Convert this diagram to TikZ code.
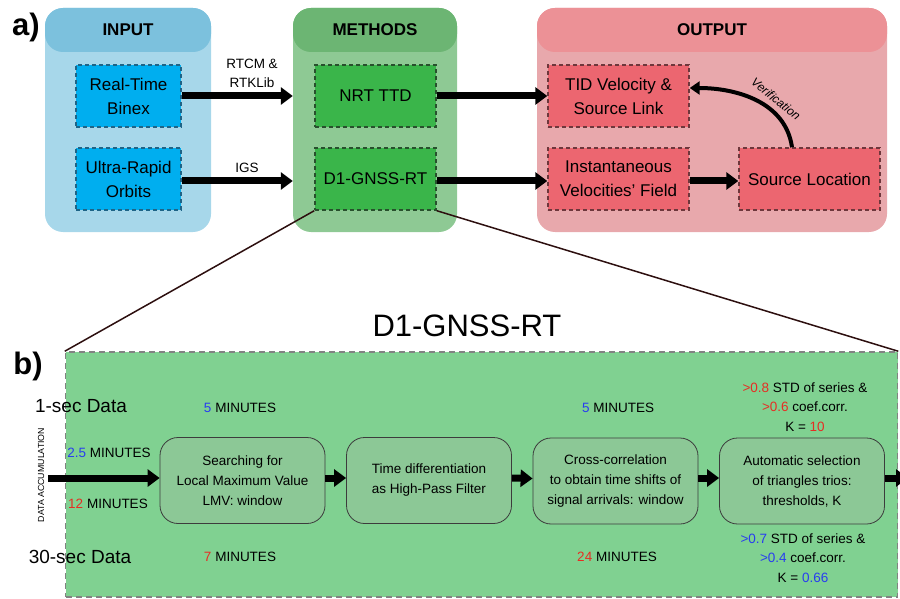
\documentclass[tikz,border=0pt]{standalone}
\usepackage{fontspec}
\setmainfont{Liberation Sans}
\usetikzlibrary{arrows.meta,calc}

\definecolor{inHead}{RGB}{124,193,221}
\definecolor{inBody}{RGB}{167,215,234}
\definecolor{inBox}{RGB}{0,174,239}
\definecolor{inLine}{RGB}{30,100,135}
\definecolor{meHead}{RGB}{108,181,115}
\definecolor{meBody}{RGB}{142,201,148}
\definecolor{meBox}{RGB}{58,181,74}
\definecolor{meLine}{RGB}{40,80,45}
\definecolor{ouHead}{RGB}{236,145,150}
\definecolor{ouBody}{RGB}{232,168,172}
\definecolor{ouBox}{RGB}{236,102,112}
\definecolor{ouLine}{RGB}{110,55,60}
\definecolor{bFill}{RGB}{128,209,145}
\definecolor{bLine}{RGB}{130,130,130}
\definecolor{stepFill}{RGB}{140,200,150}
\definecolor{stepLine}{RGB}{60,60,60}
\definecolor{numRed}{RGB}{230,45,35}
\definecolor{numBlue}{RGB}{40,60,240}
\definecolor{zoomLine}{RGB}{45,15,15}

\newcommand{\rd}[1]{{\color{numRed}#1}}
\newcommand{\bl}[1]{{\color{numBlue}#1}}

\tikzset{
  x=1pt, y=1pt,
  panel/.style={rounded corners=18pt, inner sep=0pt},
  paneltitle/.style={rounded corners=18pt, inner sep=0pt, minimum height=44pt,
    font=\fontsize{17}{20}\selectfont\bfseries},
  srcbox/.style={draw, dash pattern=on 4pt off 3pt, line width=1.4pt,
    minimum height=62pt, align=center, inner sep=0pt,
    font=\fontsize{17}{24}\selectfont},
  fat/.style={line width=7pt, -{Triangle[length=12pt,width=17pt]}},
  lbl/.style={align=center, inner sep=0pt, font=\fontsize{13.5}{19}\selectfont},
  stepbox/.style={draw=stepLine, line width=0.8pt, fill=stepFill, rounded corners=18pt,
    minimum width=165pt, minimum height=86pt, align=center, inner sep=0pt,
    font=\fontsize{13.5}{20}\selectfont},
  note/.style={inner sep=0pt, align=center, font=\fontsize{13.5}{19.5}\selectfont},
  datalbl/.style={inner sep=0pt, font=\fontsize{19}{22}\selectfont},
}

\begin{document}
\begin{tikzpicture}
\useasboundingbox (0,0) rectangle (900,-599);

% ---------- a) panels ----------
\node[font=\fontsize{31}{31}\selectfont\bfseries, inner sep=0pt] (alabel) at (26,-27) {a)};

\node[panel, fill=inBody, minimum width=166pt, minimum height=224pt] (inp) at (128,-120) {};
\node[paneltitle, fill=inHead, minimum width=166pt] (inpT) at (128,-30) {INPUT};

\node[panel, fill=meBody, minimum width=164pt, minimum height=224pt] (meth) at (375,-120) {};
\node[paneltitle, fill=meHead, minimum width=164pt] (methT) at (375,-30) {METHODS};

\node[panel, fill=ouBody, minimum width=350pt, minimum height=224pt] (outp) at (712,-120) {};
\node[paneltitle, fill=ouHead, minimum width=350pt] (outpT) at (712,-30) {OUTPUT};

% input boxes
\node[srcbox, fill=inBox, draw=inLine, minimum width=105pt] (rtb) at (128.5,-96) {Real-Time\\Binex};
\node[srcbox, fill=inBox, draw=inLine, minimum width=105pt] (uro) at (128.5,-179) {Ultra-Rapid\\Orbits};

% method boxes
\node[srcbox, fill=meBox, draw=meLine, minimum width=121pt] (nrt) at (375.5,-96) {NRT TTD};
\node[srcbox, fill=meBox, draw=meLine, minimum width=121pt] (d1) at (375.5,-179) {D1-GNSS-RT};

% output boxes
\node[srcbox, fill=ouBox, draw=ouLine, minimum width=141pt] (tid) at (618.5,-96) {TID Velocity \&\\Source Link};
\node[srcbox, fill=ouBox, draw=ouLine, minimum width=141pt] (inst) at (618.5,-179) {Instantaneous\\Velocities’ Field};
\node[srcbox, fill=ouBox, draw=ouLine, minimum width=141pt] (src) at (809.5,-179) {Source Location};

% connectors of part a)
\draw[fat] (rtb.east) -- (rtb.east -| meth.west);
\draw[fat] ([yshift=-2pt]uro.east) -- ([yshift=-2pt]uro.east -| meth.west);
\node[lbl] (rtcm) at (252,-73) {RTCM \&\\RTKLib};
\node[lbl] (igs) at (247,-168) {IGS};

\draw[fat] (nrt.east) -- (tid.west);
\draw[fat] ([yshift=-2pt]d1.east) -- ([yshift=-2pt]inst.west);
\draw[fat] ([yshift=-2pt]inst.east) -- ([yshift=-2pt]src.west);

\coordinate (vstart) at ($(src.north)+(-17.5,0)$);
\coordinate (vend) at ($(tid.east)+(0,8)$);
\draw[line width=4pt, -{Triangle[length=10pt,width=13pt]}] (vstart) to[out=98,in=0] (vend);
\node[rotate=-39, inner sep=0pt, font=\fontsize{12}{12}\selectfont\itshape] (verif) at (776,-99) {Verification};

% ---------- b) detail ----------
\node[font=\fontsize{31}{31}\selectfont, inner sep=0pt] (title) at (467,-326) {D1-GNSS-RT};
\node[font=\fontsize{31}{31}\selectfont\bfseries, inner sep=0pt] (blabel) at (28,-366) {b)};

\node[draw=bLine, fill=bFill, line width=1.5pt, dash pattern=on 6pt off 4pt,
      minimum width=832pt, minimum height=245pt, inner sep=0pt] (bbox) at (481.5,-474.5) {};

\draw[zoomLine, line width=1.5pt] (d1.south west) -- (bbox.north west);
\draw[zoomLine, line width=1.5pt] (d1.south east) -- (bbox.north east);

\node[datalbl] (sec1) at (81,-406) {1-sec Data};
\node[datalbl] (sec30) at (80,-557) {30-sec Data};
\node[rotate=90, inner sep=0pt, font=\fontsize{8.8}{9}\selectfont] (accum) at (41,-475) {DATA ACCUMULATION};

\node[note] (m25) at (109,-453) {\bl{2.5} MINUTES};
\node[note] (m12) at (108,-504) {\rd{12} MINUTES};

\node[stepbox] (s1) at (242.5,-480.5) {Searching for\\Local Maximum Value\\LMV: window};
\node[stepbox] (s2) at (429,-480.5) {Time differentiation\\as High-Pass Filter};
\node[stepbox] (s3) at (615.5,-481) {Cross-correlation\\to obtain time shifts of\\signal arrivals: window};
\node[stepbox] (s4) at (802,-481) {Automatic selection\\of triangles trios:\\thresholds, K};

\coordinate (feed) at (48,-478);
\coordinate (exit) at (908,-478);
\draw[fat] (feed) -- (feed -| s1.west);
\draw[fat] ($(s1.east)+(0,2.5)$) -- ($(s2.west)+(0,2.5)$);
\draw[fat] ($(s2.east)+(0,2.5)$) -- ($(s3.west)+(0,2.5)$);
\draw[fat] ($(s3.east)+(0,3)$) -- ($(s4.west)+(0,3)$);
\draw[fat] ($(s4.east)+(0,3)$) -- (exit);

\node[note] (t5a) at (240,-408) {\bl{5} MINUTES};
\node[note] (t7) at (240,-557) {\rd{7} MINUTES};
\node[note] (t5b) at (618,-408) {\bl{5} MINUTES};
\node[note] (t24) at (617,-557) {\rd{24} MINUTES};

\node[note] (hi) at (805,-407) {\rd{>0.8} STD of series \&\\\rd{>0.6} coef.corr.\\K = \rd{10}};
\node[note] (lo) at (803,-558) {\bl{>0.7} STD of series \&\\\bl{>0.4} coef.corr.\\K = \bl{0.66}};
\end{tikzpicture}
\end{document}
